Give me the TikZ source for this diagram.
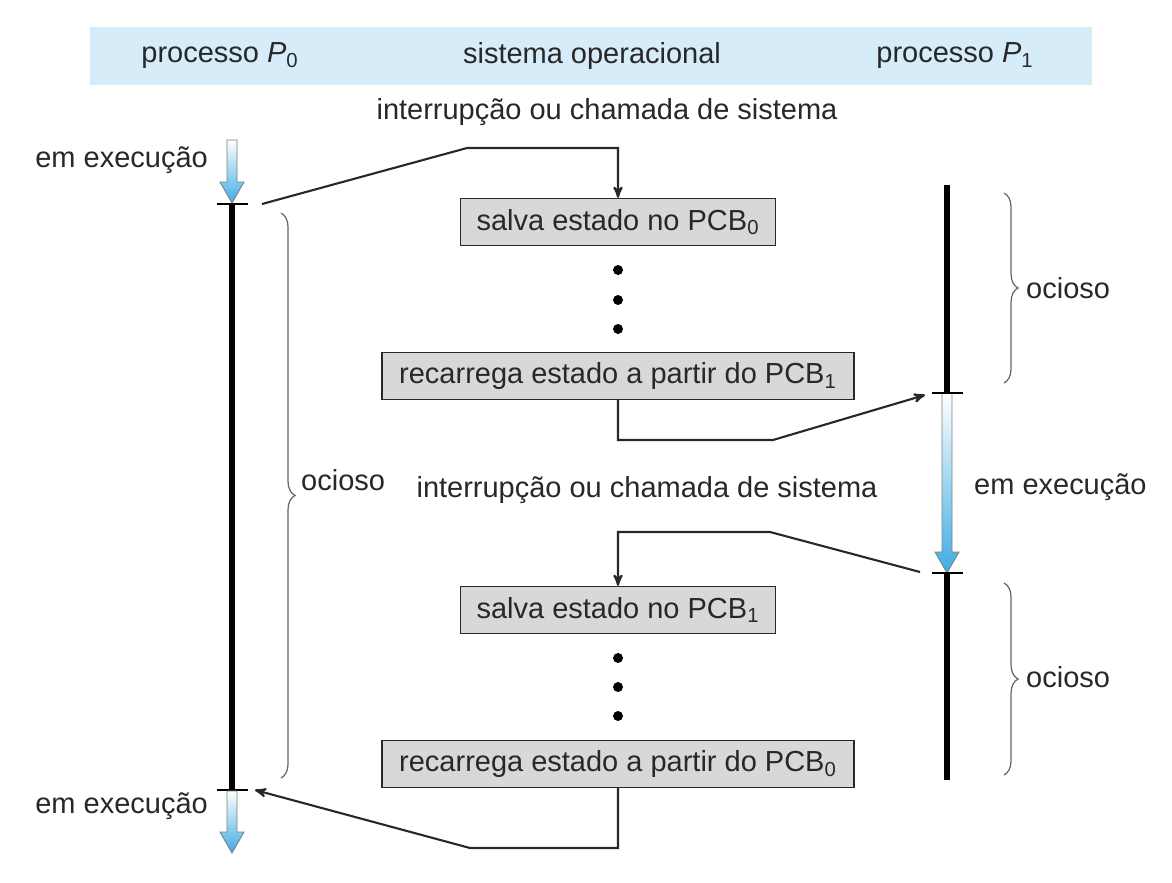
\documentclass[tikz,border=0pt]{standalone}
\usepackage{fontspec}
\setmainfont{Liberation Sans}
\usetikzlibrary{arrows,decorations.pathreplacing}

\definecolor{bandblue}{RGB}{214,236,248}
\definecolor{runblue}{RGB}{62,172,228}
\definecolor{boxgray}{RGB}{216,216,216}
\definecolor{txtgray}{RGB}{40,40,40}

% blue "running" arrow: x, top y, tip y
\newcommand{\runarrow}[3]{%
  \shade[top color=white,bottom color=runblue,draw=gray,line width=0.5pt]
    (#1-5,#2) -- (#1+5,#2) -- (#1+5,#3-21) -- (#1+12,#3-21) -- (#1,#3)
    -- (#1-12,#3-21) -- (#1-5,#3-21) -- cycle;}

\begin{document}
\begin{tikzpicture}[x=0.02cm,y=-0.02cm,>=stealth',
    every node/.style={font=\fontsize{16.5}{19}\selectfont,text=txtgray},
    stepbox/.style={draw=txtgray,fill=boxgray,line width=0.8pt,
        minimum height=0.94cm,inner sep=0pt},
    link/.style={->,line width=1.2pt,draw=txtgray},
    bar/.style={line width=3.4pt,black},
    tick/.style={line width=0.8pt,black},
    idle/.style={decorate,decoration={brace,amplitude=8pt},draw=gray!80!black,line width=0.7pt},
    dot/.style={circle,fill=black,inner sep=0pt,minimum size=0.2cm}]

  \useasboundingbox (0,0) rectangle (1172,882);

  % header band
  \fill[bandblue] (90,27) rectangle (1092,85);
  \node (p0) at (220,56) {processo {\itshape P}\textsubscript{0}};
  \node (os) at (592,56) {sistema operacional};
  \node (p1) at (955,56) {processo {\itshape P}\textsubscript{1}};

  \node (int0) at (607,112) {interrupção ou chamada de sistema};
  \node (int1) at (647,490) {interrupção ou chamada de sistema};

  % operating system steps
  \node[stepbox,minimum width=6.3cm] (save0) at (618,222) {salva estado no PCB\textsubscript{0}};
  \node[stepbox,minimum width=9.44cm] (load1) at (618,376) {recarrega estado a partir do PCB\textsubscript{1}};
  \node[stepbox,minimum width=6.3cm] (save1) at (618,610) {salva estado no PCB\textsubscript{1}};
  \node[stepbox,minimum width=9.44cm] (load0) at (618,764) {recarrega estado a partir do PCB\textsubscript{0}};
  \foreach \y [count=\i] in {270,300,329}
    \node[dot] (dota\i) at (618,\y) {};
  \foreach \y [count=\i] in {658,687,716}
    \node[dot] (dotb\i) at (618,\y) {};

  % process P0
  \coordinate (p0top) at (232,204);
  \coordinate (p0bot) at (232,790);
  \runarrow{232}{140}{203}
  \draw[bar] (p0top) -- (p0bot);
  \draw[tick] (p0top) +(-15,0) -- +(16,0);
  \draw[tick] (p0bot) +(-15,0) -- +(16,0);
  \runarrow{232}{791}{853}
  \node[anchor=east] (run0a) at (214,160) {em execução};
  \node[anchor=east] (run0b) at (214,806) {em execução};
  \draw[idle] (281,213) -- (281,778);
  \node[anchor=west] (idle0) at (295,480) {ocioso};

  % process P1
  \coordinate (p1top) at (947,185);
  \coordinate (p1mida) at (947,393);
  \coordinate (p1midb) at (947,573);
  \coordinate (p1bot) at (947,780);
  \draw[bar] (p1top) -- (p1mida);
  \runarrow{947}{393}{573}
  \draw[bar] (p1midb) -- (p1bot);
  \draw[tick] (p1mida) +(-15,0) -- +(16,0);
  \draw[tick] (p1midb) +(-15,0) -- +(16,0);
  \node[anchor=west] (run1) at (968,487) {em execução};
  \draw[idle] (1004,193) -- (1004,383);
  \node[anchor=west] (idle1a) at (1020,288) {ocioso};
  \draw[idle] (1004,583) -- (1004,775);
  \node[anchor=west] (idle1b) at (1020,677) {ocioso};

  % switches
  \coordinate (c0) at (262,204);
  \coordinate (k0) at (467,148);
  \coordinate (k1) at (773,440);
  \coordinate (c1) at (925,395);
  \coordinate (c2) at (920,572);
  \coordinate (k2) at (770,532);
  \coordinate (k3) at (470,848);
  \coordinate (c3) at (255,790);
  \draw[link] (c0) -- (k0) -| (save0.north);
  \draw[link] (load1.south) |- (k1) -- (c1);
  \draw[link] (c2) -- (k2) -| (save1.north);
  \draw[link] (load0.south) |- (k3) -- (c3);

\end{tikzpicture}
\end{document}
